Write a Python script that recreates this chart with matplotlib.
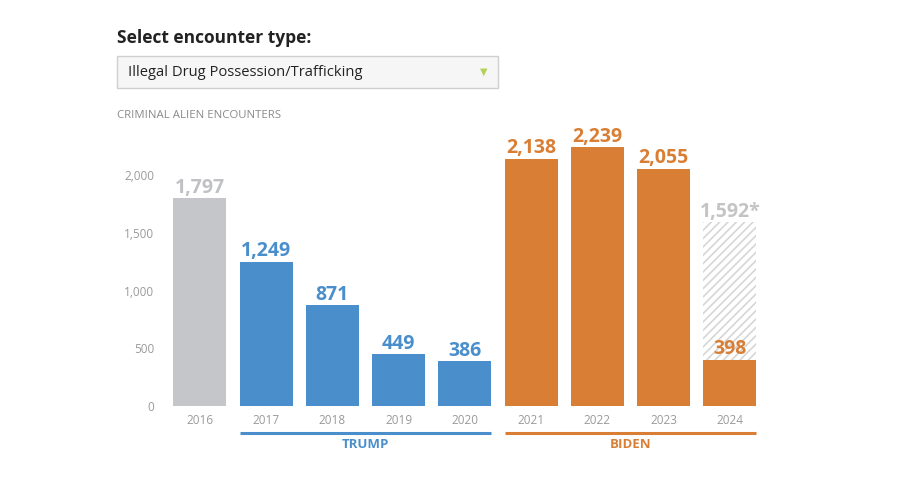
import matplotlib.pyplot as plt
import matplotlib.transforms as mtransforms
from matplotlib.patches import FancyBboxPatch

plt.rcParams['font.family'] = ['Open Sans', 'DejaVu Sans']
plt.rcParams['hatch.linewidth'] = 1.2

# data
years = ['2016', '2017', '2018', '2019', '2020', '2021', '2022', '2023', '2024']
values = [1797, 1249, 871, 449, 386, 2138, 2239, 2055, 398]
labels = ['1,797', '1,249', '871', '449', '386', '2,138', '2,239', '2,055', '398']
projected_2024 = 1592
projected_label = '1,592*'
yticks = [0, 500, 1000, 1500, 2000]
yticklabels = ['0', '500', '1,000', '1,500', '2,000']

gray = '#c5c6c9'
blue = '#4a8fcc'
orange = '#d97f35'
label_gray = '#c4c4c4'
colors = [gray] + [blue] * 4 + [orange] * 4
text_colors = ['#c0c1c4'] + [blue] * 4 + [orange] * 4

fig = plt.figure(figsize=(9, 4.87), dpi=100)

# header
fig.text(117 / 900, 1 - 38 / 487, 'Select encounter type:', fontsize=12.5,
         fontweight='bold', color='#222222', va='center', ha='left')
box = FancyBboxPatch((117 / 900, 1 - 88 / 487), (498 - 117) / 900, 32 / 487,
                     boxstyle='square,pad=0', transform=fig.transFigure,
                     facecolor='#f6f6f6', edgecolor='#cfcfcf', linewidth=1)
fig.patches.append(box)
fig.text(128 / 900, 1 - 72 / 487, 'Illegal Drug Possession/Trafficking',
         fontsize=10.6, color='#222222', va='center', ha='left')
fig.text(484 / 900, 1 - 72 / 487, '\u25BC', fontsize=7, color='#b3d155',
         va='center', ha='center', family='DejaVu Sans')
fig.text(117 / 900, 1 - 115 / 487, 'CRIMINAL ALIEN ENCOUNTERS', fontsize=8.2,
         color='#8a8a8a', va='center', ha='left')

ax = fig.add_axes([166.8 / 900, 81 / 487, (763 - 166.8) / 900, 277.2 / 487])
x = list(range(len(years)))

# projected 2024 bar (hatched)
ax.bar(8, projected_2024, width=0.8, facecolor='white', edgecolor='#d6d6d6',
       hatch='////', linewidth=0)
ax.bar(x, values, width=0.8, color=colors)

for i, v in enumerate(values):
    ax.text(i, v + 5, labels[i], ha='center', va='bottom', fontsize=14,
            fontweight='bold', color=text_colors[i])
ax.text(8, projected_2024 + 5, projected_label, ha='center', va='bottom',
        fontsize=14, fontweight='bold', color=label_gray)

ax.set_xlim(-0.5, 8.5)
ax.set_ylim(0, 2400)
ax.set_yticks(yticks)
ax.set_yticklabels(yticklabels)
ax.set_xticks(x)
ax.set_xticklabels(years)
ax.tick_params(axis='both', length=0, labelsize=8.5, labelcolor='#9a9a9a')
ax.tick_params(axis='y', pad=9)
ax.tick_params(axis='x', pad=6)
for s in ax.spines.values():
    s.set_visible(False)

# administration brackets
trans = mtransforms.blended_transform_factory(ax.transData, ax.transAxes)
ax.plot([0.6, 4.4], [-0.097, -0.097], color=blue, linewidth=2.2,
        transform=trans, clip_on=False, solid_capstyle='butt')
ax.plot([4.6, 8.4], [-0.097, -0.097], color=orange, linewidth=2.2,
        transform=trans, clip_on=False, solid_capstyle='butt')
ax.text(2.5, -0.14, 'TRUMP', transform=trans, ha='center', va='center',
        fontsize=9.5, fontweight='bold', color=blue)
ax.text(6.5, -0.14, 'BIDEN', transform=trans, ha='center', va='center',
        fontsize=9.5, fontweight='bold', color=orange)

fig.savefig('out.png', dpi=100)
